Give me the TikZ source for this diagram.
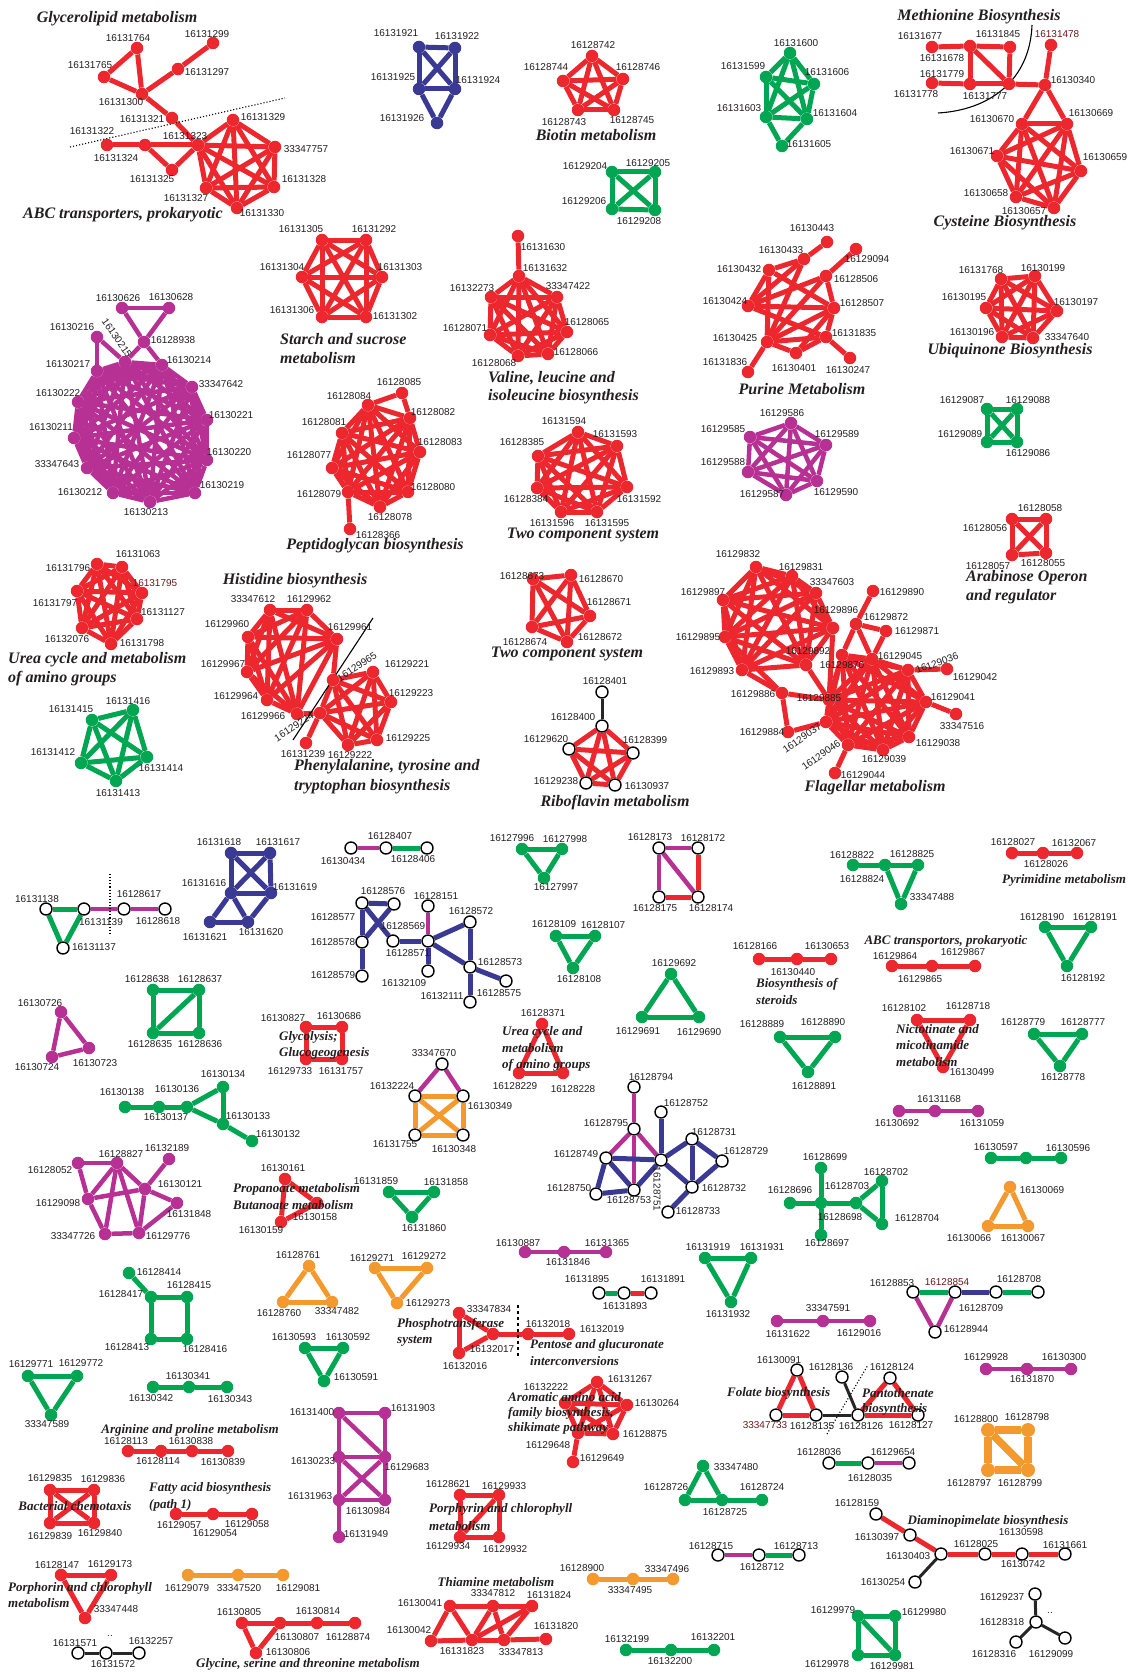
\documentclass[tikz,border=0pt]{standalone}
\usepackage{fontspec}
\setmainfont{Liberation Serif}
\setsansfont{Liberation Sans}
\definecolor{cR}{RGB}{236,40,46}
\definecolor{cG}{RGB}{0,166,81}
\definecolor{cP}{RGB}{183,48,148}
\definecolor{cB}{RGB}{58,57,147}
\definecolor{cO}{RGB}{243,153,45}
\definecolor{cT}{RGB}{35,31,32}
\definecolor{cM}{RGB}{110,25,25}
\pgfdeclarelayer{bg}\pgfsetlayers{bg,main}
\tikzset{
 nd/.style={circle,inner sep=0pt,minimum size=12.5pt,draw=none,fill=#1},
 ond/.style={circle,inner sep=0pt,minimum size=12pt,draw=black,line width=1.4pt,fill=white},
 lab/.style={font=\sffamily\fontsize{10}{10}\selectfont,text=cT,inner sep=0pt},
 ttl/.style={font=\rmfamily\bfseries\itshape\fontsize{16}{18}\selectfont,text=cT,inner sep=0pt},
 stl/.style={font=\rmfamily\bfseries\itshape\fontsize{13}{15}\selectfont,text=cT,inner sep=0pt},
 eR/.style={draw=cR,line width=5pt},
 eG/.style={draw=cG,line width=5pt},
 eP/.style={draw=cP,line width=4.5pt},
 eB/.style={draw=cB,line width=5pt},
 eO/.style={draw=cO,line width=5pt},
 eK/.style={draw=black!85,line width=3pt},
 thinline/.style={draw=black,line width=1.1pt},
}
\newcommand\V[6]{\node[#1] (n#2) at (#3,#4) {}; \node[lab] (l#2) at (#5,#6) {#2};}
\newcommand\VM[6]{\node[#1] (n#2) at (#3,#4) {}; \node[lab,text=cM] (l#2) at (#5,#6) {#2};}
\newcommand\VR[7]{\node[#1] (n#2) at (#3,#4) {}; \node[lab,rotate=#7] (l#2) at (#5,#6) {#2};}
\newcommand\E[2]{\foreach \a/\b in {#2}{\draw[#1] (n\a) -- (n\b);}}
\newcommand\K[2]{\foreach \a [count=\i] in {#2}{\foreach \b [count=\j] in {#2}{\ifnum\i<\j\relax\draw[#1] (n\a) -- (n\b);\fi}}}
\begin{document}
\begin{tikzpicture}[x=1pt,y=-1pt]
\useasboundingbox (0,0) rectangle (1129,1672);
% ---------- Glycerolipid / ABC
\V{nd=cR}{16131764}{137}{48}{128}{38}
\V{nd=cR}{16131299}{213}{43}{207}{34}
\V{nd=cR}{16131765}{104}{77}{90}{65}
\V{nd=cR}{16131297}{178}{69}{207}{72}
\V{nd=cR}{16131300}{142}{94}{121}{102}
\V{nd=cR}{16131321}{172}{118}{142}{119}
\V{nd=cR}{16131322}{107}{145}{92}{131}
\V{nd=cR}{16131324}{145}{145}{116}{158}
\V{nd=cR}{16131323}{198}{145}{185}{136}
\V{nd=cR}{16131325}{172}{170}{152}{179}
\V{nd=cR}{16131329}{233}{120}{263}{117}
\V{nd=cR}{33347757}{275}{147}{306}{149}
\V{nd=cR}{16131328}{274}{187}{304}{179}
\V{nd=cR}{16131330}{237}{208}{262}{213}
\V{nd=cR}{16131327}{206}{188}{186}{198}
\coordinate (dl1) at (70,147); \coordinate (dl2) at (285,98);
% ---------- blue top
\V{nd=cB}{16131921}{419}{47}{396}{33}
\V{nd=cB}{16131922}{455}{48}{457}{36}
\V{nd=cB}{16131925}{419}{89}{393}{77}
\V{nd=cB}{16131924}{455}{89}{478}{80}
\V{nd=cB}{16131926}{437}{123}{402}{118}
% ---------- biotin
\V{nd=cR}{16128742}{592}{56}{593}{45}
\V{nd=cR}{16128744}{563}{81}{546}{67}
\V{nd=cR}{16128746}{623}{79}{638}{67}
\V{nd=cR}{16128743}{578}{110}{564}{122}
\V{nd=cR}{16128745}{614}{110}{632}{120}
\V{nd=cG}{16129204}{612}{172}{585}{166}
\V{nd=cG}{16129205}{655}{172}{648}{163}
\V{nd=cG}{16129206}{612}{209}{584}{201}
\V{nd=cG}{16129208}{655}{210}{639}{221}
% ---------- green 6
\V{nd=cG}{16131600}{790}{53}{796}{43}
\V{nd=cG}{16131599}{766}{77}{743}{66}
\V{nd=cG}{16131606}{814}{84}{827}{72}
\V{nd=cG}{16131603}{766}{117}{739}{108}
\V{nd=cG}{16131604}{807}{119}{835}{113}
\V{nd=cG}{16131605}{782}{146}{809}{144}
% ---------- methionine / cysteine
\V{nd=cR}{16131677}{932}{47}{920}{36}
\V{nd=cR}{16131678}{970}{46}{942}{58}
\V{nd=cR}{16131845}{1010}{47}{998}{34}
\V{nd=cR}{16131778}{932}{83}{916}{94}
\V{nd=cR}{16131779}{970}{84}{942}{74}
\V{nd=cR}{16131777}{1009}{84}{985}{96}
\VM{nd=cR}{16131478}{1051}{45}{1057}{34}
\V{nd=cR}{16130340}{1045}{85}{1073}{80}
\V{nd=cR}{16130670}{1022}{124}{992}{119}
\V{nd=cR}{16130669}{1067}{124}{1091}{113}
\V{nd=cR}{16130671}{997}{156}{972}{151}
\V{nd=cR}{16130659}{1081}{171}{1105}{157}
\V{nd=cR}{16130658}{1016}{197}{986}{193}
\V{nd=cR}{16130657}{1054}{208}{1024}{211}
\coordinate (mc1) at (1032,25); \coordinate (mc2) at (938,113);
% ---------- starch
\V{nd=cR}{16131305}{322}{240}{301}{229}
\V{nd=cR}{16131292}{366}{240}{374}{229}
\V{nd=cR}{16131303}{382}{277}{400}{267}
\V{nd=cR}{16131302}{366}{317}{395}{316}
\V{nd=cR}{16131306}{322}{317}{292}{310}
\V{nd=cR}{16131304}{302}{277}{282}{267}
% ---------- valine
\V{nd=cR}{16131630}{518}{236}{543}{247}
\V{nd=cR}{16131632}{519}{276}{545}{268}
\V{nd=cR}{16132273}{491}{297}{472}{288}
\V{nd=cR}{33347422}{557}{297}{568}{286}
\V{nd=cR}{16128071}{490}{335}{465}{328}
\V{nd=cR}{16128065}{567}{332}{587}{322}
\V{nd=cR}{16128068}{518}{356}{494}{363}
\V{nd=cR}{16128066}{548}{354}{576}{352}
% ---------- purine
\V{nd=cR}{16130443}{827}{242}{812}{228}
\V{nd=cR}{16130433}{804}{259}{781}{250}
\V{nd=cR}{16129094}{856}{249}{867}{259}
\V{nd=cR}{16130432}{769}{270}{739}{269}
\V{nd=cR}{16128506}{826}{276}{856}{279}
\V{nd=cR}{16130424}{748}{306}{725}{301}
\V{nd=cR}{16128507}{834}{308}{862}{303}
\V{nd=cR}{16130425}{767}{342}{735}{338}
\V{nd=cR}{16131835}{826}{337}{854}{333}
\V{nd=cR}{16131836}{748}{372}{725}{362}
\V{nd=cR}{16130401}{796}{353}{794}{368}
\V{nd=cR}{16130247}{850}{358}{848}{370}
% ---------- ubiquinone
\V{nd=cR}{16131768}{1001}{279}{981}{270}
\V{nd=cR}{16130199}{1035}{276}{1043}{268}
\V{nd=cR}{16130195}{986}{308}{964}{297}
\V{nd=cR}{16130197}{1057}{311}{1076}{302}
\V{nd=cR}{16130196}{1002}{337}{972}{332}
\V{nd=cR}{33347640}{1033}{338}{1067}{337}
\V{nd=cG}{16129087}{987}{409}{962}{400}
\V{nd=cG}{16129088}{1017}{409}{1028}{400}
\V{nd=cG}{16129089}{987}{442}{960}{434}
\V{nd=cG}{16129086}{1017}{442}{1028}{453}
% ---------- arabinose
\V{nd=cR}{16128058}{1046}{519}{1040}{508}
\V{nd=cR}{16128056}{1012}{519}{985}{528}
\V{nd=cR}{16128057}{1012}{555}{988}{566}
\V{nd=cR}{16128055}{1046}{553}{1043}{563}
% ---------- big purple
\V{nd=cP}{16130626}{122}{308}{118}{298}
\V{nd=cP}{16130628}{169}{308}{171}{297}
\V{nd=cP}{16128938}{144}{342}{173}{340}
\V{nd=cP}{16130216}{97}{337}{72}{327}
\VR{nd=cP}{16130215}{125}{362}{117}{338}{-55}
\V{nd=cP}{16130214}{162}{365}{189}{360}
\V{nd=cP}{16130217}{97}{371}{68}{364}
\V{nd=cP}{33347642}{192}{387}{221}{384}
\V{nd=cP}{16130222}{78}{402}{58}{393}
\V{nd=cP}{16130221}{207}{420}{231}{415}
\V{nd=cP}{16130211}{74}{438}{51}{427}
\V{nd=cP}{16130220}{207}{460}{229}{452}
\V{nd=cP}{33347643}{87}{468}{57}{464}
\V{nd=cP}{16130219}{195}{493}{222}{485}
\V{nd=cP}{16130212}{113}{493}{80}{492}
\V{nd=cP}{16130213}{150}{502}{146}{512}
% ---------- peptidoglycan
\V{nd=cR}{16128085}{402}{393}{399}{382}
\V{nd=cR}{16128084}{368}{405}{349}{396}
\V{nd=cR}{16128082}{410}{418}{433}{412}
\V{nd=cR}{16128081}{342}{433}{324}{422}
\V{nd=cR}{16128083}{420}{452}{440}{442}
\V{nd=cR}{16128077}{332}{468}{309}{455}
\V{nd=cR}{16128080}{408}{492}{433}{487}
\V{nd=cR}{16128079}{348}{492}{319}{494}
\V{nd=cR}{16128078}{380}{507}{390}{517}
\V{nd=cR}{16128366}{350}{529}{378}{535}
% ---------- two component 1
\V{nd=cR}{16131594}{578}{432}{564}{421}
\V{nd=cR}{16131593}{617}{446}{615}{434}
\V{nd=cR}{16128385}{538}{456}{522}{442}
\V{nd=cR}{16131592}{627}{487}{639}{499}
\V{nd=cR}{16128384}{537}{488}{526}{499}
\V{nd=cR}{16131596}{561}{512}{552}{523}
\V{nd=cR}{16131595}{597}{512}{607}{523}
% ---------- purple 6
\V{nd=cP}{16129586}{791}{423}{782}{413}
\V{nd=cP}{16129585}{750}{437}{723}{429}
\V{nd=cP}{16129589}{826}{445}{837}{434}
\V{nd=cP}{16129588}{748}{472}{723}{462}
\V{nd=cP}{16129590}{817}{481}{836}{492}
\V{nd=cP}{16129587}{786}{495}{762}{494}
% ---------- urea 1
\V{nd=cR}{16131063}{122}{567}{138}{554}
\V{nd=cR}{16131796}{97}{564}{68}{568}
\VM{nd=cR}{16131795}{142}{593}{155}{583}
\V{nd=cR}{16131797}{77}{591}{55}{603}
\V{nd=cR}{16131127}{137}{619}{163}{612}
\V{nd=cR}{16132076}{82}{628}{67}{639}
\V{nd=cR}{16131798}{111}{644}{142}{643}
\V{nd=cG}{16131416}{133}{710}{128}{701}
\V{nd=cG}{16131415}{92}{720}{71}{709}
\V{nd=cG}{16131412}{81}{763}{53}{752}
\V{nd=cG}{16131414}{147}{757}{161}{768}
\V{nd=cG}{16131413}{116}{781}{118}{793}
% ---------- histidine / phenylalanine
\V{nd=cR}{33347612}{270}{610}{253}{599}
\V{nd=cR}{16129962}{307}{610}{309}{599}
\V{nd=cR}{16129960}{248}{637}{227}{624}
\V{nd=cR}{16129961}{337}{639}{350}{627}
\V{nd=cR}{16129967}{247}{672}{223}{664}
\V{nd=cR}{16129964}{267}{700}{236}{696}
\V{nd=cR}{16129966}{297}{714}{263}{716}
\VR{nd=cR}{16129965}{333}{680}{357}{667}{33}
\V{nd=cR}{16129221}{373}{672}{407}{664}
\V{nd=cR}{16129223}{391}{702}{411}{693}
\V{nd=cR}{16129225}{377}{740}{408}{738}
\V{nd=cR}{16129222}{348}{745}{350}{755}
\VR{nd=cR}{16129224}{320}{713}{294}{727}{33}
\V{nd=cR}{16131239}{306}{743}{303}{754}
\coordinate (hl1) at (373,618); \coordinate (hl2) at (293,740);
% ---------- two component 2, riboflavin
\V{nd=cR}{16128673}{533}{579}{522}{576}
\V{nd=cR}{16128670}{571}{575}{601}{579}
\V{nd=cR}{16128671}{590}{616}{609}{602}
\V{nd=cR}{16128674}{532}{627}{525}{642}
\V{nd=cR}{16128672}{567}{642}{600}{637}
\V{ond}{16128401}{602}{692}{605}{681}
\V{ond}{16128400}{602}{726}{573}{717}
\V{ond}{16129620}{569}{749}{546}{739}
\V{ond}{16128399}{633}{753}{645}{740}
\V{ond}{16129238}{586}{783}{556}{781}
\V{ond}{16130937}{615}{785}{647}{786}
% ---------- flagellar
\V{nd=cR}{16129832}{756}{567}{738}{554}
\V{nd=cR}{16129831}{792}{576}{801}{567}
\V{nd=cR}{33347603}{816}{593}{832}{582}
\V{nd=cR}{16129897}{723}{600}{703}{592}
\V{nd=cR}{16129896}{833}{628}{836}{610}
\V{nd=cR}{16129890}{873}{591}{902}{592}
\V{nd=cR}{16129872}{856}{624}{886}{617}
\V{nd=cR}{16129871}{886}{631}{917}{631}
\V{nd=cR}{16129895}{725}{637}{698}{637}
\V{nd=cR}{16129892}{806}{665}{808}{651}
\V{nd=cR}{16129870}{842}{655}{842}{665}
\V{nd=cR}{16129045}{872}{659}{900}{656}
\VR{nd=cR}{16129036}{908}{670}{937}{663}{20}
\V{nd=cR}{16129042}{947}{669}{975}{677}
\V{nd=cR}{16129893}{742}{670}{712}{671}
\V{nd=cR}{16129886}{782}{693}{753}{694}
\V{nd=cR}{16129885}{829}{700}{819}{698}
\V{nd=cR}{16129041}{926}{702}{953}{697}
\V{nd=cR}{33347516}{956}{714}{962}{726}
\V{nd=cR}{16129884}{788}{732}{762}{732}
\VR{nd=cR}{16129037}{826}{722}{802}{738}{35}
\V{nd=cR}{16129038}{909}{737}{938}{743}
\VR{nd=cR}{16129046}{848}{745}{821}{755}{35}
\V{nd=cR}{16129039}{883}{750}{884}{759}
\V{nd=cR}{16129044}{835}{773}{863}{775}
% ---------- lower left
\V{ond}{16131138}{46}{909}{37}{899}
\V{ond}{16131139}{84}{909}{101}{922}
\V{ond}{16128617}{124}{909}{139}{894}
\V{ond}{16128618}{165}{909}{158}{921}
\V{ond}{16131137}{63}{948}{94}{947}
\coordinate (vd1) at (110,874); \coordinate (vd2) at (110,934);
\V{nd=cB}{16131618}{231}{853}{219}{842}
\V{nd=cB}{16131617}{270}{853}{278}{842}
\V{nd=cB}{16131616}{231}{893}{204}{883}
\V{nd=cB}{16131619}{271}{893}{295}{887}
\V{nd=cB}{16131621}{210}{922}{205}{937}
\V{nd=cB}{16131620}{248}{922}{261}{932}
\V{nd=cG}{16128638}{153}{990}{147}{979}
\V{nd=cG}{16128637}{199}{990}{200}{979}
\V{nd=cG}{16128635}{153}{1033}{150}{1044}
\V{nd=cG}{16128636}{199}{1033}{200}{1044}
\V{nd=cP}{16130726}{61}{1012}{40}{1003}
\V{nd=cP}{16130723}{89}{1048}{95}{1063}
\V{nd=cP}{16130724}{52}{1057}{37}{1067}
\V{nd=cR}{16130827}{306}{1027}{283}{1018}
\V{nd=cR}{16130686}{342}{1027}{339}{1016}
\V{nd=cR}{16129733}{306}{1059}{290}{1071}
\V{nd=cR}{16131757}{342}{1059}{341}{1071}
\V{nd=cG}{16130138}{125}{1107}{122}{1092}
\V{nd=cG}{16130136}{159}{1107}{177}{1089}
\V{nd=cG}{16130137}{187}{1107}{166}{1117}
\V{nd=cG}{16130134}{223}{1087}{223}{1074}
\V{nd=cG}{16130133}{223}{1124}{248}{1116}
\V{nd=cG}{16130132}{252}{1141}{278}{1134}
\V{nd=cP}{16128052}{78}{1163}{50}{1170}
\V{nd=cP}{16128827}{117}{1163}{121}{1154}
\V{nd=cP}{16132189}{169}{1159}{167}{1148}
\V{nd=cP}{16130121}{145}{1189}{180}{1184}
\V{nd=cP}{16129098}{88}{1199}{58}{1203}
\V{nd=cP}{16131848}{177}{1203}{189}{1214}
\V{nd=cP}{33347726}{105}{1234}{73}{1236}
\V{nd=cP}{16129776}{139}{1233}{168}{1236}
\V{nd=cR}{16130161}{285}{1179}{283}{1168}
\V{nd=cR}{16130158}{317}{1203}{315}{1217}
\V{nd=cR}{16130159}{281}{1222}{261}{1230}
% ---------- lower middle
\V{ond}{16130434}{351}{848}{343}{861}
\V{ond}{16128407}{386}{848}{390}{836}
\V{ond}{16128406}{427}{848}{413}{859}
\V{ond}{16128577}{362}{903}{333}{917}
\V{ond}{16128576}{394}{904}{383}{891}
\V{ond}{16128578}{362}{942}{333}{942}
\V{ond}{16128579}{362}{976}{333}{975}
\V{ond}{16128569}{393}{941}{403}{926}
\V{ond}{16128571}{428}{941}{408}{953}
\V{ond}{16128151}{428}{906}{436}{896}
\V{ond}{16128572}{470}{922}{471}{911}
\V{ond}{16128573}{470}{967}{500}{962}
\V{ond}{16132109}{428}{971}{404}{983}
\V{ond}{16132111}{470}{1002}{442}{996}
\V{ond}{16128575}{506}{981}{499}{993}
\V{nd=cG}{16127996}{522}{849}{512}{838}
\V{nd=cG}{16127998}{562}{849}{565}{839}
\V{nd=cG}{16127997}{544}{878}{556}{887}
\V{ond}{16128173}{659}{848}{650}{837}
\V{ond}{16128172}{698}{848}{703}{838}
\V{ond}{16128175}{659}{897}{655}{908}
\V{ond}{16128174}{698}{897}{711}{908}
\V{nd=cG}{16128109}{556}{936}{554}{924}
\V{nd=cG}{16128107}{595}{936}{603}{925}
\V{nd=cG}{16128108}{573}{968}{579}{979}
\V{nd=cG}{16129692}{671}{974}{674}{963}
\V{nd=cG}{16129691}{642}{1017}{638}{1031}
\V{nd=cG}{16129690}{699}{1017}{699}{1032}
\V{nd=cR}{16128371}{542}{1024}{543}{1013}
\V{nd=cR}{16128229}{519}{1073}{515}{1086}
\V{nd=cR}{16128228}{563}{1073}{573}{1089}
\V{ond}{33347670}{442}{1064}{434}{1053}
\V{ond}{16132224}{415}{1096}{392}{1086}
\V{ond}{16130349}{463}{1096}{490}{1106}
\V{ond}{16131755}{415}{1135}{395}{1144}
\V{ond}{16130348}{463}{1135}{454}{1149}
\V{nd=cG}{16131859}{389}{1192}{376}{1181}
\V{nd=cG}{16131858}{434}{1192}{446}{1182}
\V{nd=cG}{16131860}{412}{1217}{424}{1228}
\V{ond}{16128794}{634}{1087}{651}{1077}
\V{ond}{16128752}{661}{1112}{686}{1103}
\V{ond}{16128795}{634}{1129}{606}{1123}
\V{ond}{16128731}{692}{1139}{714}{1132}
\V{ond}{16128749}{606}{1158}{576}{1154}
\VR{ond}{16128751}{661}{1160}{657}{1189}{-90}
\V{ond}{16128729}{722}{1161}{746}{1151}
\V{ond}{16128750}{596}{1194}{569}{1188}
\V{ond}{16128753}{634}{1190}{629}{1200}
\V{ond}{16128732}{692}{1187}{724}{1188}
\V{ond}{16128733}{668}{1212}{698}{1211}
% ---------- lower right
\V{nd=cG}{16128822}{853}{865}{852}{855}
\V{nd=cG}{16128824}{885}{865}{862}{879}
\V{nd=cG}{16128825}{918}{865}{912}{854}
\V{nd=cG}{33347488}{901}{904}{932}{897}
\V{nd=cR}{16128027}{1012}{853}{1013}{842}
\V{nd=cR}{16128026}{1043}{853}{1046}{864}
\V{nd=cR}{16132067}{1077}{853}{1074}{843}
\V{nd=cG}{16128190}{1045}{927}{1042}{917}
\V{nd=cG}{16128191}{1091}{927}{1095}{917}
\V{nd=cG}{16128192}{1067}{966}{1083}{978}
\V{nd=cR}{16128166}{759}{959}{755}{946}
\V{nd=cR}{16130440}{797}{959}{793}{972}
\V{nd=cR}{16130653}{831}{959}{827}{946}
\V{nd=cR}{16129864}{892}{966}{895}{956}
\V{nd=cR}{16129865}{932}{966}{920}{979}
\V{nd=cR}{16129867}{975}{966}{963}{952}
\V{nd=cR}{16128102}{917}{1020}{904}{1008}
\V{nd=cR}{16128718}{970}{1020}{968}{1006}
\V{nd=cR}{16130499}{943}{1067}{972}{1072}
\V{nd=cG}{16128889}{780}{1037}{762}{1024}
\V{nd=cG}{16128890}{835}{1037}{823}{1022}
\V{nd=cG}{16128891}{808}{1072}{814}{1086}
\V{nd=cG}{16128779}{1034}{1034}{1023}{1022}
\V{nd=cG}{16128777}{1082}{1034}{1083}{1022}
\V{nd=cG}{16128778}{1060}{1066}{1063}{1077}
\V{nd=cP}{16130692}{899}{1111}{897}{1123}
\V{nd=cP}{16131168}{935}{1111}{939}{1099}
\V{nd=cP}{16131059}{978}{1111}{982}{1123}
\V{nd=cG}{16130597}{991}{1158}{996}{1147}
\node[nd=cG] (gmid) at (1026,1158) {};
\V{nd=cG}{16130596}{1061}{1158}{1068}{1148}
\V{nd=cO}{16130069}{1010}{1187}{1042}{1190}
\V{nd=cO}{16130066}{988}{1226}{969}{1238}
\V{nd=cO}{16130067}{1028}{1226}{1023}{1238}
\V{nd=cG}{16128699}{821}{1168}{825}{1157}
\V{nd=cG}{16128696}{790}{1203}{790}{1190}
\V{nd=cG}{16128698}{821}{1203}{840}{1217}
\V{nd=cG}{16128703}{856}{1203}{847}{1186}
\V{nd=cG}{16128702}{882}{1181}{886}{1172}
\V{nd=cG}{16128704}{882}{1224}{917}{1218}
\V{nd=cG}{16128697}{821}{1235}{827}{1243}
% ---------- bottom left
\V{nd=cG}{16128414}{129}{1273}{159}{1272}
\V{nd=cG}{16128417}{151}{1297}{121}{1294}
\V{nd=cG}{16128415}{187}{1297}{189}{1285}
\V{nd=cG}{16128413}{151}{1339}{127}{1347}
\V{nd=cG}{16128416}{187}{1339}{205}{1349}
\V{nd=cG}{16129771}{28}{1376}{31}{1364}
\V{nd=cG}{16129772}{77}{1376}{81}{1363}
\V{nd=cG}{33347589}{51}{1415}{47}{1424}
\V{nd=cG}{16130342}{153}{1387}{151}{1398}
\V{nd=cG}{16130341}{189}{1387}{188}{1376}
\V{nd=cG}{16130343}{227}{1387}{230}{1399}
\V{nd=cR}{16128113}{128}{1451}{126}{1441}
\V{nd=cR}{16128114}{161}{1451}{158}{1461}
\V{nd=cR}{16130838}{192}{1451}{191}{1441}
\V{nd=cR}{16130839}{228}{1451}{223}{1462}
\V{nd=cR}{16129835}{50}{1490}{50}{1478}
\V{nd=cR}{16129836}{94}{1490}{103}{1479}
\V{nd=cR}{16129839}{50}{1523}{50}{1536}
\V{nd=cR}{16129840}{94}{1523}{100}{1533}
\V{nd=cR}{16129057}{176}{1514}{179}{1525}
\V{nd=cR}{16129054}{213}{1514}{215}{1533}
\V{nd=cR}{16129058}{252}{1514}{247}{1524}
\V{nd=cR}{16128147}{61}{1575}{57}{1565}
\V{nd=cR}{16129173}{111}{1575}{110}{1564}
\V{nd=cR}{33347448}{85}{1618}{116}{1609}
\V{ond}{16131571}{78}{1653}{75}{1643}
\V{ond}{16131572}{106}{1653}{113}{1664}
\V{ond}{16132257}{139}{1653}{151}{1641}
\node[lab] (dots1) at (110,1636) {..};
\V{nd=cO}{16129079}{188}{1575}{187}{1588}
\V{nd=cO}{33347520}{238}{1575}{239}{1588}
\V{nd=cO}{16129081}{283}{1575}{298}{1588}
\V{nd=cR}{16130805}{242}{1623}{239}{1612}
\V{nd=cR}{16130807}{280}{1623}{297}{1637}
\V{nd=cR}{16130814}{317}{1623}{318}{1611}
\V{nd=cR}{16128874}{355}{1623}{348}{1637}
\V{nd=cR}{16130806}{256}{1653}{288}{1652}
\V{nd=cO}{16128761}{309}{1266}{298}{1255}
\V{nd=cO}{16128760}{283}{1302}{279}{1313}
\V{nd=cO}{33347482}{332}{1302}{337}{1311}
\V{nd=cO}{16129271}{375}{1268}{372}{1258}
\V{nd=cO}{16129272}{427}{1268}{424}{1256}
\V{nd=cO}{16129273}{397}{1303}{428}{1303}
\V{nd=cG}{16130593}{305}{1348}{294}{1337}
\V{nd=cG}{16130592}{343}{1348}{348}{1337}
\V{nd=cG}{16130591}{324}{1381}{356}{1377}
\V{nd=cP}{16131400}{339}{1413}{312}{1412}
\V{nd=cP}{16131903}{385}{1413}{413}{1408}
\V{nd=cP}{16130233}{339}{1457}{313}{1461}
\V{nd=cP}{16129683}{385}{1457}{407}{1467}
\V{nd=cP}{16131963}{339}{1500}{310}{1496}
\V{nd=cP}{16130984}{385}{1500}{368}{1511}
\V{nd=cP}{16131949}{339}{1537}{366}{1534}
% ---------- bottom middle
\V{nd=cP}{16130887}{525}{1252}{518}{1243}
\V{nd=cP}{16131846}{564}{1252}{568}{1262}
\V{nd=cP}{16131365}{606}{1252}{607}{1243}
\V{ond}{16131895}{599}{1293}{587}{1279}
\V{ond}{16131893}{624}{1293}{625}{1306}
\V{ond}{16131891}{651}{1293}{663}{1279}
\V{nd=cG}{16131919}{705}{1258}{708}{1247}
\V{nd=cG}{16131931}{751}{1258}{762}{1247}
\V{nd=cG}{16131932}{731}{1302}{728}{1314}
\V{nd=cR}{33347834}{459}{1313}{489}{1309}
\V{nd=cR}{16132017}{493}{1334}{492}{1349}
\V{nd=cR}{16132016}{459}{1353}{465}{1366}
\V{nd=cR}{16132018}{528}{1334}{548}{1324}
\V{nd=cR}{16132019}{569}{1334}{602}{1329}
\coordinate (pd1) at (518,1305); \coordinate (pd2) at (518,1358);
\V{nd=cR}{16131267}{597}{1382}{630}{1379}
\V{nd=cR}{16132222}{565}{1403}{546}{1387}
\V{nd=cR}{16130264}{627}{1405}{657}{1403}
\V{nd=cR}{16129648}{578}{1433}{548}{1445}
\V{nd=cR}{16128875}{613}{1434}{645}{1434}
\V{nd=cR}{16129649}{573}{1462}{602}{1458}
\V{nd=cR}{16128621}{460}{1495}{448}{1484}
\V{nd=cR}{16129933}{499}{1495}{504}{1486}
\V{nd=cR}{16129934}{460}{1537}{448}{1546}
\V{nd=cR}{16129932}{499}{1537}{505}{1549}
\V{nd=cR}{16130041}{450}{1606}{420}{1603}
\V{nd=cR}{33347812}{493}{1606}{493}{1593}
\V{nd=cR}{16131824}{532}{1606}{549}{1595}
\V{nd=cR}{16130042}{431}{1641}{409}{1630}
\V{nd=cR}{16131823}{472}{1640}{462}{1651}
\V{nd=cR}{33347813}{504}{1640}{521}{1652}
\V{nd=cR}{16131820}{546}{1639}{556}{1626}
\V{nd=cO}{16128900}{593}{1579}{582}{1568}
\V{nd=cO}{33347495}{633}{1579}{630}{1590}
\V{nd=cO}{33347496}{673}{1579}{667}{1569}
\V{nd=cG}{16132199}{626}{1650}{627}{1639}
\V{nd=cG}{16132200}{671}{1650}{670}{1661}
\V{nd=cG}{16132201}{714}{1650}{713}{1637}
\V{nd=cG}{33347480}{703}{1466}{736}{1467}
\V{nd=cG}{16128726}{685}{1500}{666}{1487}
\V{nd=cG}{16128725}{722}{1500}{725}{1512}
\V{nd=cG}{16128724}{762}{1500}{762}{1487}
\V{ond}{16128715}{718}{1555}{711}{1546}
\V{ond}{16128712}{759}{1555}{762}{1567}
\V{ond}{16128713}{799}{1555}{796}{1546}
% ---------- bottom right
\V{ond}{16128853}{913}{1292}{892}{1283}
\VM{ond}{16128854}{955}{1292}{947}{1282}
\V{ond}{16128709}{996}{1292}{981}{1308}
\V{ond}{16128708}{1038}{1292}{1019}{1279}
\V{ond}{16128944}{935}{1332}{966}{1329}
\V{nd=cP}{16131622}{777}{1321}{788}{1334}
\V{nd=cP}{33347591}{823}{1321}{828}{1308}
\V{nd=cP}{16129016}{870}{1321}{859}{1333}
\V{nd=cP}{16129928}{986}{1369}{986}{1357}
\V{nd=cP}{16131870}{1027}{1369}{1032}{1379}
\V{nd=cP}{16130300}{1071}{1369}{1064}{1357}
\V{ond}{16130091}{797}{1370}{779}{1360}
\VM{ond}{33347733}{776}{1415}{765}{1425}
\V{ond}{16128135}{816}{1415}{812}{1426}
\V{ond}{16128136}{842}{1377}{831}{1367}
\V{ond}{16128126}{858}{1415}{861}{1426}
\V{ond}{16128124}{890}{1378}{892}{1367}
\V{ond}{16128127}{918}{1415}{911}{1425}
\coordinate (fd1) at (827,1434); \coordinate (fd2) at (868,1365);
\V{ond}{16128036}{829}{1463}{819}{1452}
\V{ond}{16128035}{868}{1463}{870}{1478}
\V{ond}{16129654}{909}{1463}{893}{1452}
\node[nd=cO,minimum size=14pt] (n16128800) at (988,1430) {}; \node[lab] (l16128800) at (976,1419) {16128800};
\node[nd=cO,minimum size=14pt] (n16128798) at (1028,1430) {}; \node[lab] (l16128798) at (1027,1417) {16128798};
\node[nd=cO,minimum size=14pt] (n16128797) at (988,1470) {}; \node[lab] (l16128797) at (969,1483) {16128797};
\node[nd=cO,minimum size=14pt] (n16128799) at (1028,1470) {}; \node[lab] (l16128799) at (1020,1483) {16128799};
\V{ond}{16128159}{876}{1514}{857}{1503}
\V{ond}{16130397}{910}{1535}{877}{1537}
\V{ond}{16130403}{941}{1554}{908}{1556}
\V{ond}{16128025}{985}{1554}{976}{1544}
\V{ond}{16130742}{1022}{1554}{1023}{1564}
\V{ond}{16131661}{1065}{1554}{1065}{1545}
\V{ond}{16130254}{915}{1582}{883}{1582}
\node[lab] (x598) at (1021,1532) {16130598};
\V{nd=cG}{16129979}{858}{1616}{833}{1610}
\V{nd=cG}{16129980}{895}{1616}{924}{1612}
\V{nd=cG}{16129978}{858}{1655}{827}{1664}
\V{nd=cG}{16129981}{895}{1655}{892}{1666}
\V{ond}{16129237}{1035}{1594}{1002}{1597}
\V{ond}{16128318}{1036}{1622}{1002}{1622}
\V{ond}{16128316}{1016}{1642}{994}{1654}
\V{ond}{16129099}{1065}{1638}{1051}{1654}
\node[lab] (dots2) at (1050,1613) {..};
% ================= EDGES
\begin{pgfonlayer}{bg}
\E{eR}{16131764/16131765,16131764/16131300,16131765/16131300,16131300/16131297,16131297/16131299,16131300/16131321,16131321/16131323,16131322/16131324,16131324/16131323,16131324/16131325,16131325/16131323}
\K{eR}{16131323,16131329,33347757,16131328,16131330,16131327}
\draw[thinline,dotted] (dl1) -- (dl2);
\K{eB}{16131921,16131922,16131925,16131924}
\E{eB}{16131925/16131926,16131924/16131926}
\K{eR}{16128742,16128744,16128746,16128743,16128745}
\K{eG}{16129204,16129205,16129206,16129208}
\K{eG}{16131600,16131599,16131606,16131603,16131604}
\E{eG}{16131603/16131605,16131604/16131605}
\E{eR}{16131677/16131678,16131678/16131845,16131678/16131779,16131678/16131777,16131845/16131777,16131778/16131779,16131779/16131777,16131777/16130340,16130340/16131478,16130340/16130670,16130340/16130669}
\K{eR}{16130670,16130669,16130659,16130657,16130658,16130671}
\draw[thinline] (mc1) .. controls (1030,80) and (990,110) .. (mc2);
\K{eR}{16131305,16131292,16131303,16131302,16131306,16131304}
\E{eR}{16131630/16131632}
\K{eR}{16131632,16132273,33347422,16128065,16128066,16128068,16128071}
\E{eR}{16130443/16130433,16129094/16128506,16130432/16130433,16130432/16130424,16130432/16130425,16130432/16128507,16130433/16130424,16130433/16130425,16128506/16130424,16128506/16128507,16128506/16130425,16130424/16128507,16130424/16131835,16130425/16128507,16130425/16130401,16130425/16131835,16130425/16131836,16128507/16131835,16131835/16130401,16131835/16130247,16128507/16130401}
\K{eR}{16131768,16130199,16130195,16130197,16130196,33347640}
\K{eG}{16129087,16129088,16129089,16129086}
\K{eR}{16128058,16128056,16128057,16128055}
\E{eP}{16130626/16130628,16130626/16128938,16130628/16128938,16128938/16130215,16128938/16130214,16130216/16130215,16130216/16130217}
\K{draw=cP,line width=4.5pt}{16130215,16130214,33347642,16130221,16130220,16130219,16130213,16130212,33347643,16130211,16130222,16130217}
\E{eR}{16128084/16128085,16128085/16128082,16128079/16128366}
\K{eR}{16128084,16128082,16128083,16128080,16128078,16128079,16128077,16128081}
\K{eR}{16131594,16131593,16128385,16131592,16128384,16131596,16131595}
\K{eP}{16129586,16129585,16129589,16129588,16129590,16129587}
\K{eR}{16131063,16131796,16131795,16131797,16131127,16132076,16131798}
\K{eG}{16131416,16131415,16131412,16131414,16131413}
\K{eR}{33347612,16129962,16129960,16129961,16129967,16129964,16129966}
\K{eR}{16129965,16129221,16129223,16129225,16129222,16129224}
\E{eR}{16129224/16131239,16129966/16129224,16129961/16129965}
\draw[thinline] (hl1) -- (hl2);
\K{eR}{16128673,16128670,16128671,16128674,16128672}
\E{eK}{16128401/16128400}
\K{eR}{16128400,16129620,16128399,16129238,16130937}
\K{eR}{16129832,16129831,33347603,16129897,16129895,16129893,16129896,16129892}
\K{eR}{16129870,16129045,16129036,16129041,16129038,16129039,16129046,16129037,16129885}
\E{eR}{16129886/16129893,16129886/16129895,16129886/16129884,16129886/16129885,16129884/16129037,16129890/16129872,16129872/16129871,16129872/16129870,16129871/16129045,16129872/16129045,16129036/16129042,16129041/33347516,16129046/16129044,16129892/16129885,16129896/16129885}
% lower
\E{eG}{16131138/16131139,16131138/16131137,16131139/16131137}
\E{eP}{16131139/16128617,16128617/16128618}
\draw[thinline,dotted] (vd1) -- (vd2);
\K{eB}{16131618,16131617,16131616,16131619}
\E{eB}{16131616/16131621,16131616/16131620,16131619/16131620,16131621/16131620}
\E{eG}{16128638/16128637,16128638/16128635,16128637/16128636,16128635/16128636,16128635/16128637}
\K{eP}{16130726,16130723,16130724}
\E{eR}{16130827/16130686,16130686/16131757,16131757/16129733,16129733/16130827}
\E{eG}{16130138/16130136,16130136/16130137,16130137/16130134,16130137/16130133,16130134/16130133,16130133/16130132}
\E{eP}{16128052/16128827,16128052/16129098,16128827/16129098,16128827/16130121,16128827/33347726,16128827/16129776,16129098/16130121,16129098/33347726,16130121/16132189,16130121/16131848,16130121/16129776,16131848/16129776,33347726/16129776}
\K{eR}{16130161,16130158,16130159}
\E{eP}{16130434/16128407}
\E{eG}{16128407/16128406}
\E{eB}{16128577/16128576,16128577/16128578,16128578/16128579,16128577/16128569,16128576/16128578,16128569/16128571,16128571/16128572,16128571/16128573,16128571/16132109,16128572/16128573,16128573/16128575,16128573/16132111}
\E{eP}{16128571/16128151}
\K{eG}{16127996,16127998,16127997}
\E{eP}{16128173/16128172,16128173/16128175,16128173/16128174}
\E{eR}{16128172/16128174,16128175/16128174}
\K{eG}{16128109,16128107,16128108}
\K{eG}{16129692,16129691,16129690}
\K{eR}{16128371,16128229,16128228}
\E{eP}{33347670/16132224,33347670/16130349}
\K{eO}{16132224,16130349,16131755,16130348}
\K{eG}{16131859,16131858,16131860}
\E{eP}{16128794/16128795,16128795/16128749,16128795/16128751,16128795/16128753}
\E{eB}{16128752/16128751,16128749/16128751,16128749/16128750,16128749/16128753,16128750/16128753,16128753/16128751,16128751/16128731,16128751/16128732,16128731/16128729,16128731/16128732,16128729/16128732,16128732/16128733}
\E{eG}{16128822/16128824,16128824/16128825,16128824/33347488,16128825/33347488}
\E{eR}{16128027/16128026,16128026/16132067}
\K{eG}{16128190,16128191,16128192}
\E{eR}{16128166/16130440,16130440/16130653,16129864/16129865,16129865/16129867}
\K{eR}{16128102,16128718,16130499}
\K{eG}{16128889,16128890,16128891}
\K{eG}{16128779,16128777,16128778}
\E{eP}{16130692/16131168,16131168/16131059}
\draw[eG] (n16130597) -- (gmid); \draw[eG] (gmid) -- (n16130596);
\K{eO}{16130069,16130066,16130067}
\E{eG}{16128699/16128698,16128696/16128698,16128698/16128703,16128698/16128697,16128703/16128702,16128703/16128704,16128702/16128704}
\E{eG}{16128414/16128417,16128417/16128415,16128417/16128413,16128415/16128416,16128413/16128416}
\K{eG}{16129771,16129772,33347589}
\E{eG}{16130342/16130341,16130341/16130343}
\E{eR}{16128113/16128114,16128114/16130838,16130838/16130839}
\K{eR}{16129835,16129836,16129839,16129840}
\E{eR}{16129057/16129054,16129054/16129058}
\K{eR}{16128147,16129173,33347448}
\E{eK}{16131571/16131572,16131572/16132257}
\E{eO}{16129079/33347520,33347520/16129081}
\E{eR}{16130805/16130807,16130807/16130814,16130814/16128874,16130805/16130806,16130806/16130807}
\K{eO}{16128761,16128760,33347482}
\K{eO}{16129271,16129272,16129273}
\K{eG}{16130593,16130592,16130591}
\E{eP}{16131400/16131903,16131400/16130233,16131903/16129683,16130233/16129683,16131400/16129683,16130233/16131963,16129683/16130984,16131963/16130984,16130233/16130984,16129683/16131963,16131963/16131949}
\E{eP}{16130887/16131846,16131846/16131365}
\E{eG}{16131895/16131893}
\E{eR}{16131893/16131891}
\K{eG}{16131919,16131931,16131932}
\E{eR}{33347834/16132017,33347834/16132016,16132016/16132017,16132017/16132018,16132018/16132019}
\draw[thinline,dashed] (pd1) -- (pd2);
\K{eR}{16131267,16132222,16130264,16129648,16128875}
\E{eR}{16129648/16129649}
\E{eR}{16128621/16129933,16128621/16129934,16129933/16129932,16129934/16129932,16129934/16129933}
\E{eR}{16130041/33347812,33347812/16131824,16130041/16130042,16130041/16131823,16130042/16131823,33347812/16131823,33347812/33347813,16131823/33347813,16131823/16131824,33347813/16131824,33347813/16131820}
\E{eO}{16128900/33347495,33347495/33347496}
\E{eG}{16132199/16132200,16132200/16132201}
\E{eG}{33347480/16128726,33347480/16128725,16128726/16128725,16128725/16128724}
\E{eP}{16128715/16128712}
\E{eG}{16128712/16128713}
\E{eG}{16128853/16128854,16128709/16128708}
\E{eB}{16128854/16128709}
\E{eP}{16128853/16128944,16128854/16128944}
\E{eP}{16131622/33347591,33347591/16129016,16129928/16131870,16131870/16130300}
\E{eR}{16130091/33347733,16130091/16128135,33347733/16128135,16128126/16128124,16128124/16128127,16128126/16128127}
\E{eK}{16128135/16128126,16128136/16128126}
\draw[thinline,dotted] (fd1) -- (fd2);
\E{eG}{16128036/16128035}
\E{eP}{16128035/16129654}
\E{draw=cO,line width=7.5pt}{16128800/16128798,16128800/16128797,16128798/16128799,16128797/16128799,16128800/16128799}
\E{eR}{16128159/16130397,16130397/16130403,16130403/16128025,16128025/16130742,16130742/16131661}
\E{eK}{16130403/16130254}
\E{eG}{16129979/16129980,16129979/16129978,16129980/16129981,16129978/16129981,16129979/16129981}
\E{eK}{16128318/16129237,16128318/16128316,16128318/16129099}
\end{pgfonlayer}
% ================= TITLES
\node[ttl] (t1) at (117,19) {Glycerolipid metabolism};
\node[ttl] (t2) at (123,215) {ABC transporters, prokaryotic};
\node[ttl] (t3) at (596,135) {Biotin metabolism};
\node[ttl] (t4) at (979,17) {Methionine Biosynthesis};
\node[ttl] (t5) at (1005,223) {Cysteine Biosynthesis};
\node[ttl,anchor=west] (t6a) at (280,339) {Starch and sucrose};
\node[ttl,anchor=west] (t6b) at (280,358) {metabolism};
\node[ttl,anchor=west] (t7a) at (488,378) {Valine, leucine and};
\node[ttl,anchor=west] (t7b) at (488,397) {isoleucine biosynthesis};
\node[ttl] (t8) at (802,389) {Purine Metabolism};
\node[ttl] (t9) at (1010,351) {Ubiquinone Biosynthesis};
\node[ttl] (t10) at (375,546) {Peptidoglycan biosynthesis};
\node[ttl] (t11) at (583,535) {Two component system};
\node[ttl,anchor=west] (t12a) at (966,578) {Arabinose Operon};
\node[ttl,anchor=west] (t12b) at (966,597) {and regulator};
\node[ttl,anchor=west] (t13a) at (8,660) {Urea cycle and metabolism};
\node[ttl,anchor=west] (t13b) at (8,679) {of amino groups};
\node[ttl] (t14) at (295,581) {Histidine biosynthesis};
\node[ttl] (t15) at (567,654) {Two component system};
\node[ttl,anchor=west] (t16a) at (294,767) {Phenylalanine, tyrosine and};
\node[ttl,anchor=west] (t16b) at (294,787) {tryptophan biosynthesis};
\node[ttl] (t17) at (615,803) {Riboflavin metabolism};
\node[ttl] (t18) at (875,788) {Flagellar metabolism};
\node[stl] (s1) at (1064,880) {Pyrimidine metabolism};
\node[stl] (s2) at (946,941) {ABC transportors, prokaryotic};
\node[stl,anchor=west] (s3a) at (756,984) {Biosynthesis of};
\node[stl,anchor=west] (s3b) at (756,1000) {steroids};
\node[stl,anchor=west] (s4a) at (896,1029) {Nictotinate and};
\node[stl,anchor=west] (s4b) at (896,1045) {micotinamide};
\node[stl,anchor=west] (s4c) at (896,1062) {metabolism};
\node[stl,anchor=west] (s5a) at (279,1037) {Glycolysis;};
\node[stl,anchor=west] (s5b) at (279,1053) {Glucogeogenesis};
\node[stl,anchor=west] (s6a) at (502,1032) {Urea cycle and};
\node[stl,anchor=west] (s6b) at (502,1048) {metabolism};
\node[stl,anchor=west] (s6c) at (502,1065) {of amino groups};
\node[stl,anchor=west] (s7a) at (233,1189) {Propanoate metabolism};
\node[stl,anchor=west] (s7b) at (233,1205) {Butanoate metabolism};
\node[stl] (s8) at (190,1430) {Arginine and proline metabolism};
\node[stl] (s9) at (75,1506) {Bacterial chemotaxis};
\node[stl,anchor=west] (s10a) at (149,1488) {Fatty acid biosynthesis};
\node[stl,anchor=west] (s10b) at (149,1505) {(path 1)};
\node[stl,anchor=west] (s11a) at (8,1588) {Porphorin and chlorophyll};
\node[stl,anchor=west] (s11b) at (8,1603) {metabolism};
\node[stl,anchor=west] (s12) at (196,1664) {Glycine, serine and threonine metabolism};
\node[stl,anchor=west] (s13a) at (397,1324) {Phosphotransferase};
\node[stl,anchor=west] (s13b) at (397,1341) {system};
\node[stl,anchor=west] (s14a) at (530,1345) {Pentose and glucuronate};
\node[stl,anchor=west] (s14b) at (530,1361) {interconversions};
\node[stl,anchor=west] (s15a) at (508,1397) {Aromatic amino acid};
\node[stl,anchor=west] (s15b) at (508,1413) {family biosynthesis,};
\node[stl,anchor=west] (s15c) at (508,1428) {shikimate pathway};
\node[stl,anchor=west] (s16a) at (429,1509) {Porphyrin and chlorophyll};
\node[stl,anchor=west] (s16b) at (429,1526) {metabolism};
\node[stl] (s17) at (496,1582) {Thiamine metabolism};
\node[stl,anchor=west] (s18) at (727,1393) {Folate biosynthesis};
\node[stl,anchor=west] (s19a) at (862,1393) {Pantothenate};
\node[stl,anchor=west] (s19b) at (862,1409) {biosynthesis};
\node[stl] (s20) at (988,1521) {Diaminopimelate biosynthesis};
\end{tikzpicture}
\end{document}
